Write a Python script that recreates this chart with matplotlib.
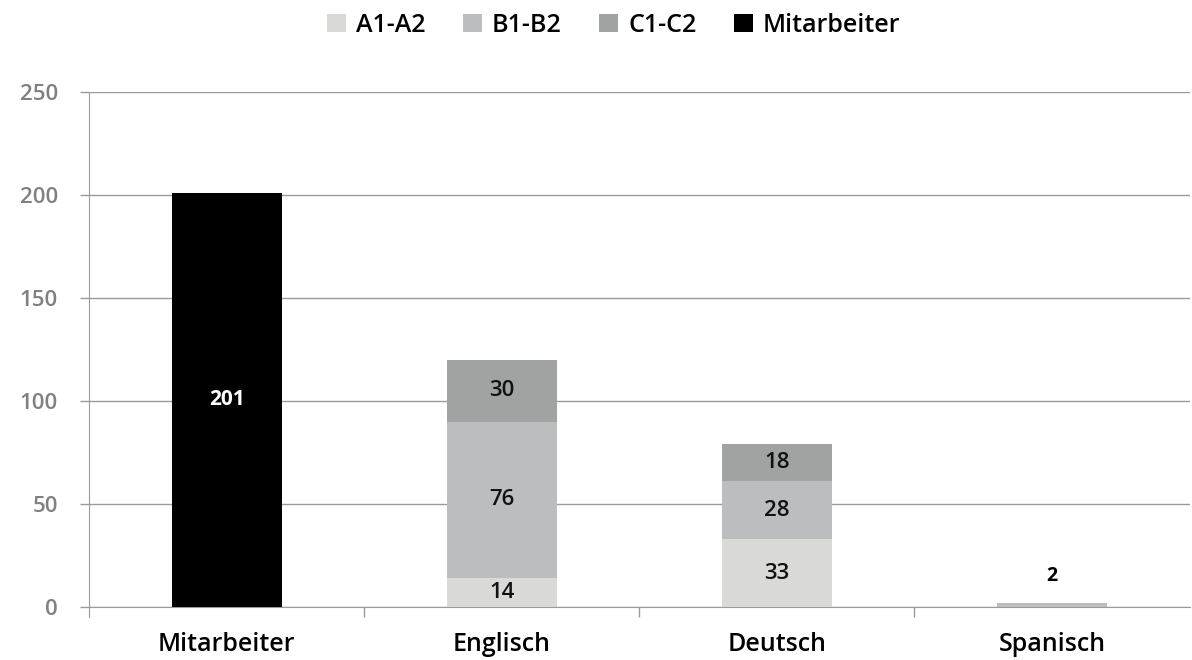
import matplotlib
matplotlib.use("Agg")
import matplotlib.pyplot as plt
import numpy as np
from matplotlib.patches import Patch

plt.rcParams['font.family'] = ['Open Sans', 'DejaVu Sans']

categories = ["Mitarbeiter", "Englisch", "Deutsch", "Spanisch"]
series_names = ["A1-A2", "B1-B2", "C1-C2", "Mitarbeiter"]
a1_a2 = [0, 14, 33, 0]
b1_b2 = [0, 76, 28, 2]
c1_c2 = [0, 30, 18, 0]
mitarbeiter = [201, 0, 0, 0]
y_ticks = [0, 50, 100, 150, 200, 250]

colors = ["#d9dad8", "#bcbdbf", "#a1a3a3", "#000000"]

fig = plt.figure(figsize=(11.92, 6.6), dpi=100)
ax = fig.add_axes([0.0747, 0.0803, 0.9233, 0.7803])

x = np.arange(len(categories))
width = 0.4
series = [a1_a2, b1_b2, c1_c2, mitarbeiter]
bottom = np.zeros(len(categories))
for vals, col, name in zip(series, colors, series_names):
    vals = np.array(vals, dtype=float)
    ax.bar(x, vals, width, bottom=bottom, color=col, label=name, zorder=3)
    for xi, v, b in zip(x, vals, bottom):
        if v <= 0:
            continue
        if v < 5:
            # small segments get their label above the bar
            ax.text(xi, b + v + 13, f"{int(v)}", ha="center", va="center",
                    fontsize=14, fontweight="bold", color="black", zorder=4)
        elif name == "Mitarbeiter":
            ax.text(xi, b + v / 2, f"{int(v)}", ha="center", va="center",
                    fontsize=15, fontweight="bold", color="white", zorder=4)
        else:
            ax.text(xi, b + v / 2, f"{int(v)}", ha="center", va="center",
                    fontsize=16, fontweight="semibold", color="#111111", zorder=4)
    bottom += vals

ax.set_xlim(-0.5, len(categories) - 0.5)
ax.set_ylim(0, 250)
ax.set_yticks(y_ticks)
ax.set_yticklabels([str(t) for t in y_ticks], color="#808080", fontsize=16,
                   fontweight="semibold")
ax.yaxis.grid(True, color="#9a9a9a", linewidth=1.0, zorder=0)
ax.set_xticks(x)
ax.set_xticklabels(categories, fontsize=18, color="black", fontweight="semibold")
ax.set_xticks(np.arange(0.5, len(categories) - 0.5, 1.0), minor=True)
ax.tick_params(axis="x", which="major", length=0, pad=18)
ax.tick_params(axis="x", which="minor", length=7, color="#9a9a9a", width=1)
ax.tick_params(axis="y", length=6.5, color="#9a9a9a", width=1, pad=16)

for s in ["top", "right"]:
    ax.spines[s].set_visible(False)
ax.spines["left"].set_color("#9a9a9a")
ax.spines["bottom"].set_color("#9a9a9a")
ax.spines["left"].set_bounds(-5, 250)
ax.set_axisbelow(True)

handles = [Patch(facecolor=c, label=n) for c, n in zip(colors, series_names)]
fig.legend(handles=handles, loc="upper center", bbox_to_anchor=(0.515, 1.015),
           ncol=4, frameon=False, prop={"size": 18, "weight": "semibold"},
           handlelength=0.75, handleheight=0.75,
           handletextpad=0.4, columnspacing=1.5)

fig.savefig("out.png", dpi=100)
